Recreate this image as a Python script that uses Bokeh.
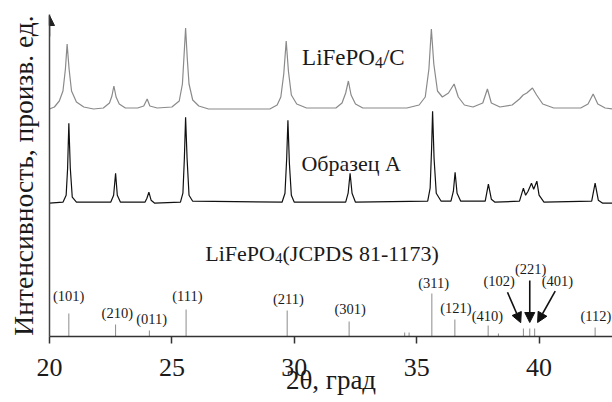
from bokeh.plotting import figure
from bokeh.models import Range1d, FixedTicker, Arrow, NormalHead
from bokeh.core.properties import value
from bokeh.embed import file_html
from bokeh.resources import INLINE

# ---------------- data ----------------
# LiFePO4/C pattern: 2theta, intensity above its own baseline (arb. units)
tth_c = [20.0, 20.2, 20.4, 20.55, 20.65, 20.72, 20.8, 20.9, 21.1, 21.4, 21.8,
         22.2, 22.45, 22.55, 22.63, 22.72, 22.85, 23.1, 23.6, 23.85, 23.99, 24.1, 24.4,
         25.0, 25.3, 25.43, 25.5, 25.56, 25.63, 25.7, 25.85, 26.1, 26.5,
         29.0, 29.3, 29.45, 29.57, 29.67, 29.76, 29.88, 30.1, 30.5,
         31.7, 31.95, 32.1, 32.21, 32.32, 32.5, 32.8,
         34.6, 35.1, 35.35, 35.5, 35.6, 35.7, 35.85, 36.05, 36.3, 36.53, 36.7, 36.95,
         37.3, 37.7, 37.89, 38.05, 38.4, 38.9, 39.2, 39.35, 39.5, 39.73, 39.9, 40.15, 40.6,
         41.7, 42.0, 42.21, 42.4, 42.7, 43.0]
int_c = [0, 2, 8, 18, 40, 65, 40, 18, 7, 2, 0,
         1, 6, 13, 23, 12, 5, 1, 1, 3, 10, 3, 1,
         2, 8, 25, 55, 81, 50, 25, 9, 3, 0,
         0, 4, 12, 35, 68, 38, 14, 5, 1,
         1, 6, 16, 28, 14, 5, 1,
         1, 4, 12, 40, 80, 45, 18, 12, 16, 25, 12, 4,
         2, 6, 20, 6, 2, 4, 10, 14, 16, 21, 14, 5, 1,
         1, 5, 15, 5, 1, 0]

# Sample A pattern
tth_a = [20.0, 20.55, 20.68, 20.74, 20.79, 20.85, 20.93, 21.1,
         22.5, 22.62, 22.70, 22.77, 22.9,
         23.9, 23.98, 24.06, 24.15, 24.3,
         25.35, 25.45, 25.51, 25.56, 25.62, 25.7, 25.85,
         29.5, 29.62, 29.69, 29.74, 29.80, 29.88, 30.0,
         32.1, 32.2, 32.28, 32.36, 32.5,
         35.45, 35.55, 35.61, 35.65, 35.71, 35.8, 36.0,
         36.4, 36.5, 36.57, 36.65, 36.8,
         37.8, 37.93, 38.05, 38.2,
         39.2, 39.36, 39.45, 39.55, 39.69, 39.78, 39.91, 40.0, 40.2,
         42.15, 42.29, 42.42, 42.6, 43.0]
int_a = [0, 1, 8, 35, 80, 35, 6, 1,
         1, 8, 30, 8, 1,
         1, 5, 11, 3, 0,
         1, 10, 45, 86, 45, 8, 2,
         1, 10, 45, 83, 40, 8, 1,
         1, 10, 30, 10, 1,
         2, 15, 55, 92, 45, 10, 2,
         2, 12, 31, 10, 2,
         2, 19, 4, 1,
         2, 15, 8, 12, 20, 14, 22, 8, 1,
         2, 20, 3, 0, 0]

# JCPDS 81-1173 reference lines
ref_tth = [20.79, 22.70, 24.08, 25.58, 29.71, 32.24, 34.51, 34.69, 35.62,
           36.56, 37.92, 38.34, 39.36, 39.62, 39.82, 42.29]
ref_int = [23, 12, 6, 27, 26, 15, 4, 4, 43, 17, 11, 3, 8, 8, 8, 9]

hkl = ["(101)", "(210)", "(011)", "(111)", "(211)", "(301)", "(311)",
       "(121)", "(410)", "(102)", "(221)", "(401)", "(112)"]

x_ticks = [20, 25, 30, 35, 40]

# ---------------- layout ----------------
OFF_C = 227.5   # baseline of LiFePO4/C trace
OFF_A = 133.3   # baseline of sample A trace

SERIF = "Liberation Serif"
TXT = "#1a1a1a"

p = figure(width=612, height=402, output_backend="svg", toolbar_location=None,
           x_range=Range1d(20, 43), y_range=Range1d(0, 322),
           min_border_left=49, min_border_right=0, min_border_top=14,
           min_border_bottom=66)
p.outline_line_color = None
p.xgrid.visible = False
p.ygrid.visible = False
p.background_fill_color = "white"
p.border_fill_color = "white"

# traces
p.line(tth_c, [v + OFF_C for v in int_c], line_color="#8a8a8a", line_width=1.2)
p.line(tth_a, [v + OFF_A for v in int_a], line_color="#111111", line_width=1.2)

# reference sticks
p.segment(x0=ref_tth, y0=[0] * len(ref_tth), x1=ref_tth, y1=ref_int,
          line_color="#8c8c8c", line_width=1)

# hkl labels (layout positions)
lab_x = [20.78, 22.77, 24.17, 25.63, 29.76, 32.28, 35.69, 36.60, 37.89, 38.37, 39.66, 40.75, 42.32]
lab_y = [41, 23.3, 18, 41, 38, 28, 53.3, 28.3, 21, 56, 67.7, 56, 21]
p.text(x=lab_x, y=lab_y, text=hkl, text_font=value(SERIF), text_font_size="14.5px",
       text_align="center", text_baseline="middle", text_color=TXT)

# arrows for closely spaced lines
for (xs, ys, xe, ye) in [(38.71, 44.3, 39.25, 13.8), (39.62, 56.0, 39.62, 14.0), (40.66, 45.3, 39.94, 14.0)]:
    p.add_layout(Arrow(x_start=xs, y_start=ys, x_end=xe, y_end=ye,
                       line_color="#111111", line_width=1.6,
                       end=NormalHead(size=10, fill_color="#111111", line_color="#111111")))

TIMES_W = {"(": .333, ")": .333, "J": .389, "C": .667, "P": .556, "D": .722, "S": .556,
           " ": .25, "-": .333, "/": .278}


def rest_width(s):
    return sum(TIMES_W.get(ch, 0.5) for ch in s)


def formula_label(x, y, main, sub, rest, size, sub_size, align_center=False):
    """LiFePO + subscript 4 + rest, drawn as three text pieces."""
    w_main = 3.167 * size
    w_sub = 0.5 * sub_size
    x0 = 0
    if align_center:
        total = w_main + w_sub + rest_width(rest) * size
        x0 = -total / 2
    kw = dict(text_font=value(SERIF), text_baseline="alphabetic", text_align="left", text_color=TXT)
    p.text(x=[x], y=[y], text=[main], text_font_size=f"{size}px", x_offset=x0, **kw)
    p.text(x=[x], y=[y - 5], text=[sub], text_font_size=f"{sub_size}px", x_offset=x0 + w_main, **kw)
    p.text(x=[x], y=[y], text=[rest], text_font_size=f"{size}px", x_offset=x0 + w_main + w_sub, **kw)


formula_label(30.32, 279.5, "LiFePO", "4", "/C", 23, 16)
formula_label(31.15, 83.5, "LiFePO", "4", "(JCPDS 81-1173)", 22, 15, align_center=True)

p.text(x=[30.29], y=[173.5], text=["Образец А"], text_font=value(SERIF), text_font_size="22px",
       text_align="left", text_baseline="alphabetic", text_color=TXT)

# axes
xa = p.xaxis[0]
xa.ticker = FixedTicker(ticks=x_ticks)
xa.minor_tick_line_color = None
xa.major_tick_in = 0
xa.major_tick_out = 7
xa.major_tick_line_color = "#333333"
xa.major_tick_line_width = 1.5
xa.axis_line_color = "#333333"
xa.axis_line_width = 1.5
xa.major_label_text_font = SERIF
xa.major_label_text_font_size = "26px"
xa.major_label_text_color = TXT
xa.major_label_standoff = 15
xa.axis_label = "2θ, град"
xa.axis_label_text_font = SERIF
xa.axis_label_text_font_size = "27px"
xa.axis_label_text_font_style = "normal"
xa.axis_label_text_color = TXT
xa.axis_label_standoff = -14

ya = p.yaxis[0]
ya.ticker = FixedTicker(ticks=[])
ya.minor_tick_line_color = None
ya.major_tick_line_color = None
ya.axis_line_color = "#444444"
ya.axis_line_width = 1.5
ya.axis_label = "Интенсивность, произв. ед."
ya.axis_label_text_font = SERIF
ya.axis_label_text_font_size = "27.5px"
ya.axis_label_text_font_style = "normal"
ya.axis_label_text_color = TXT
ya.axis_label_standoff = 11

p.add_layout(Arrow(x_start=20, y_start=300, x_end=20, y_end=321, line_color="#444444",
                   line_width=1.5, end=NormalHead(size=10, fill_color="#222222", line_color="#222222")))

open("out.html", "w").write(file_html(p, INLINE))
